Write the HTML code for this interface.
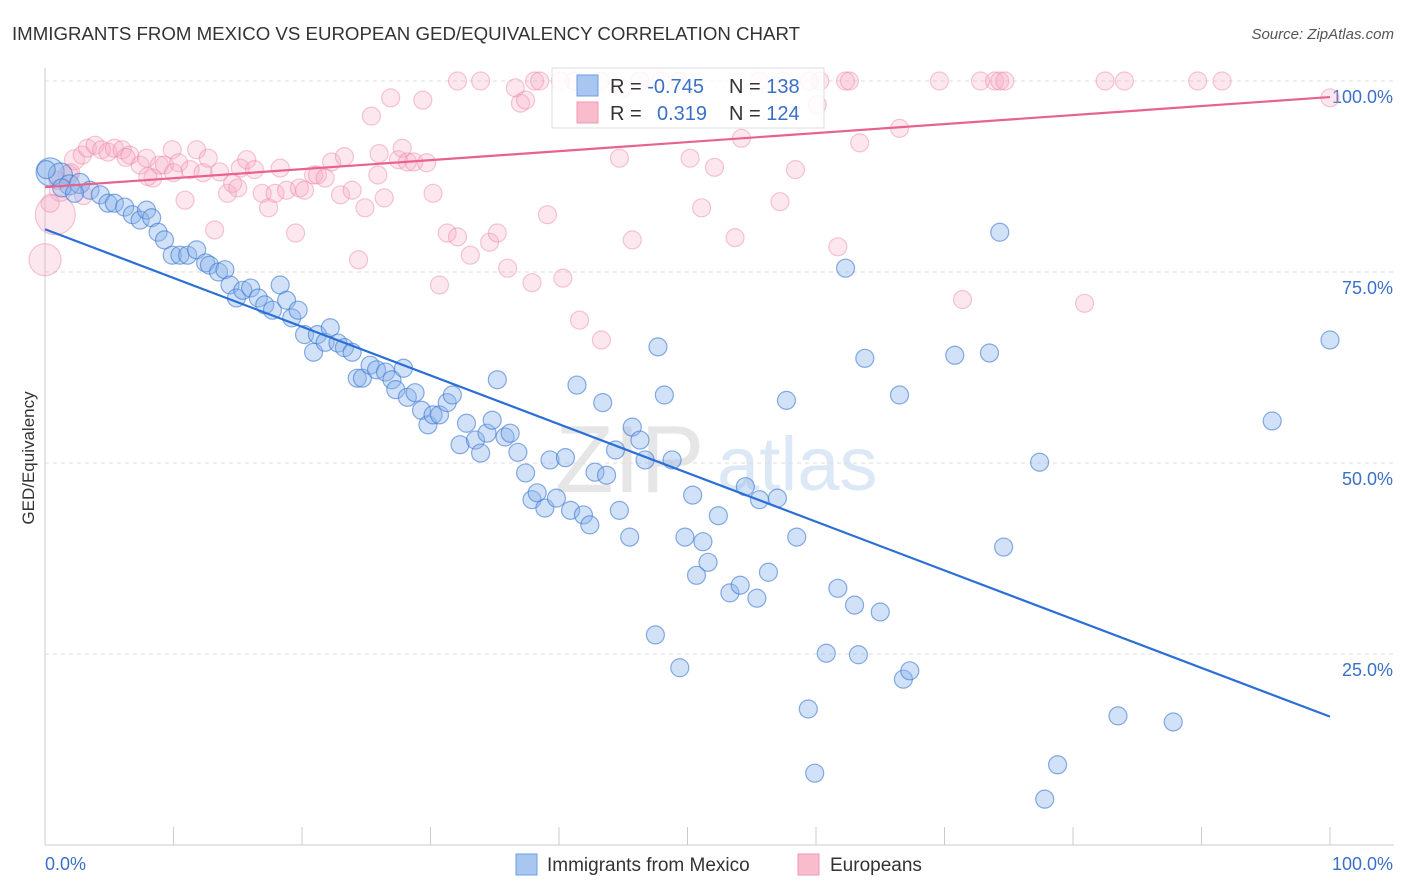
<!DOCTYPE html>
<html><head><meta charset="utf-8">
<style>
body{margin:0;background:#fff;font-family:"Liberation Sans",sans-serif;}
#wrap{position:relative;width:1406px;height:892px;overflow:hidden;}
svg text{font-family:"Liberation Sans",sans-serif;}
</style></head>
<body>
<div id="wrap">
<svg id="chart" width="1406" height="892">
  <text x="12" y="40" font-size="18" fill="#333" textLength="788" lengthAdjust="spacingAndGlyphs">IMMIGRANTS FROM MEXICO VS EUROPEAN GED/EQUIVALENCY CORRELATION CHART</text>
  <text x="1394" y="39" font-size="15" fill="#555" font-style="italic" text-anchor="end">Source: ZipAtlas.com</text>
  <text transform="translate(34,458) rotate(-90)" font-size="17" fill="#333" text-anchor="middle">GED/Equivalency</text>
  <g>
    <text x="555" y="492" font-size="96" fill="#e6e6e6" font-family="Liberation Serif">ZIP</text>
    <text x="717" y="490" font-size="76" fill="#dce8f5">atlas</text>
  </g>
  <g id="grid"></g>
  <g id="axes"></g>
  <g id="pts"></g>
  <g id="trends"></g>
  <g>
    <rect x="552" y="68" width="272" height="60" fill="rgba(255,255,255,0.85)" stroke="#ddd"/>
    <rect x="577" y="75" width="21" height="21" fill="#a8c6f0" stroke="#6d9de0"/>
    <rect x="577" y="102" width="21" height="21" fill="#f8bccd" stroke="#ef97b2"/>
    <text x="610" y="93" font-size="20" fill="#333">R = <tspan fill="#3a70c8">-0.745</tspan></text>
    <text x="729" y="93" font-size="20" fill="#333">N = <tspan fill="#3a70c8">138</tspan></text>
    <text x="610" y="120" font-size="20" fill="#333">R = <tspan fill="#3a70c8" x="657">0.319</tspan></text>
    <text x="729" y="120" font-size="20" fill="#333">N = <tspan fill="#3a70c8">124</tspan></text>
  </g>
  <g>
    <rect x="516" y="854" width="21" height="21" fill="#a8c6f0" stroke="#6d9de0"/>
    <text x="547" y="871" font-size="19" fill="#333">Immigrants from Mexico</text>
    <rect x="798" y="854" width="21" height="21" fill="#f8bccd" stroke="#ef97b2"/>
    <text x="830" y="871" font-size="19" fill="#333">Europeans</text>
  </g>
</svg>
</div>
<script>
const yTicks=[100,75,50,25];
const yTickLabels=["100.0%","75.0%","50.0%","25.0%"];
const xTicks=[0,10,20,30,40,50,60,70,80,90,100];
const xEndLabels=["0.0%","100.0%"];
const mexX=[0.4,1.2,1.9,2.7,3.5,4.3,4.9,5.4,6.2,6.8,7.4,7.9,8.3,8.8,9.3,9.9,10.5,11.1,11.8,12.5,12.8,13.5,14.0,14.4,14.9,15.4,16.0,16.6,17.1,17.7,18.3,18.8,19.2,19.7,20.2,20.9,21.2,21.8,22.2,22.8,23.3,23.9,24.3,24.7,25.3,25.8,26.5,27.0,27.3,27.9,28.2,28.8,29.3,29.8,30.2,30.7,31.3,31.7,32.3,32.8,33.5,33.9,34.4,34.8,35.2,35.8,36.2,36.8,37.4,37.9,38.3,38.9,39.3,39.8,40.5,40.9,41.4,41.9,42.4,42.8,43.4,43.7,44.4,44.7,45.5,45.7,46.3,46.7,47.5,47.7,48.2,48.8,49.4,49.8,50.4,50.7,51.2,51.6,52.4,53.3,54.1,54.5,55.4,55.6,56.3,57.0,57.7,58.5,59.4,59.9,60.8,61.7,62.3,63.0,63.3,63.8,65.0,66.5,66.8,67.3,70.8,73.5,74.3,74.6,77.4,77.8,78.8,83.5,87.8,95.5,100,0.1,1.3,2.3];
const mexY=[88.1,87.7,86.4,86.6,85.7,85.1,84.0,84.0,83.5,82.5,81.8,83.1,82.1,80.2,79.2,77.2,77.2,77.2,77.9,76.2,75.9,75.0,75.3,73.3,71.6,72.6,72.9,71.6,70.7,70.0,73.3,71.3,69.0,70.0,66.8,64.5,66.8,65.8,67.7,65.7,65.1,64.5,61.1,61.1,62.8,62.2,61.9,60.9,59.6,62.4,58.6,59.2,56.9,55.0,56.3,56.3,57.9,58.9,52.4,55.2,53.0,51.3,53.9,55.6,60.9,53.4,53.9,51.4,48.7,45.2,46.1,44.1,50.4,45.4,50.7,43.8,60.2,43.2,41.9,48.8,57.9,48.4,51.7,43.8,40.3,54.7,53.0,50.4,27.5,65.2,58.9,50.4,23.2,40.3,45.8,35.3,39.7,37.0,43.1,33.0,34.0,46.9,32.3,45.2,35.7,45.4,58.2,40.3,17.8,9.4,25.1,33.6,75.5,31.4,24.9,63.7,30.5,58.9,21.7,22.8,64.1,64.4,80.2,39.0,50.1,6.0,10.5,16.9,16.1,55.5,66.1,88.4,86.0,85.3];
const mexR=[14,12,10,10,9,9,9,9,9,9,9,9,9,9,9,9,9,9,9,9,9,9,9,9,9,9,9,9,9,9,9,9,9,9,9,9,9,9,9,9,9,9,9,9,9,9,9,9,9,9,9,9,9,9,9,9,9,9,9,9,9,9,9,9,9,9,9,9,9,9,9,9,9,9,9,9,9,9,9,9,9,9,9,9,9,9,9,9,9,9,9,9,9,9,9,9,9,9,9,9,9,9,9,9,9,9,9,9,9,9,9,9,9,9,9,9,9,9,9,9,9,9,9,9,9,9,9,9,9,9,9,9,9,9,9,9,12,10,9];
const eurX=[0,0.8,1.2,1.8,2.3,2.9,3.3,3.9,4.4,4.9,5.4,6.0,6.6,7.4,7.9,8.4,8.9,9.3,9.9,10.4,10.9,11.3,11.8,12.3,12.7,13.2,13.6,14.2,14.6,15.2,15.7,16.3,16.9,17.4,17.9,18.3,18.8,19.5,19.8,20.2,20.9,21.2,21.8,22.3,23.0,23.3,23.9,24.4,24.9,25.4,25.9,26.4,26.9,27.5,27.8,28.2,28.7,29.4,29.7,30.2,30.7,31.3,32.1,32.1,33.1,33.9,34.6,35.2,36.0,36.6,37.0,37.4,37.9,38.1,38.5,39.1,40.1,40.3,41.2,41.6,43.2,43.3,44.7,45.7,46.3,47.9,49.4,50.2,51.1,52.1,53.7,54.2,55.6,57.2,57.4,58.4,59.5,60.1,60.3,61.7,62.3,62.6,63.4,66.5,69.6,71.4,72.8,73.9,74.3,74.7,80.9,82.5,84.0,89.7,91.6,100,0.4,1.0,2.0,3.0,6.3,8.0,10.0,15.0,26.0,45.0];
const eurY=[76.6,82.5,85.7,87.7,89.7,90.3,91.2,91.6,91.0,90.7,91.2,91.0,90.3,89.0,89.9,87.3,89.0,89.0,91.0,89.3,84.4,88.4,91.0,88.0,89.9,80.5,88.1,85.3,86.6,88.6,89.7,88.4,85.3,83.4,85.3,88.6,85.7,80.1,86.0,85.7,87.7,87.7,87.3,89.4,85.1,90.1,85.7,76.6,83.4,95.4,87.7,84.7,97.8,89.7,91.2,89.4,89.4,97.5,89.3,85.3,73.3,80.1,79.6,100,77.2,100,78.9,80.1,75.5,99.1,97.1,97.5,73.6,100,100,82.5,100,74.2,100,68.7,100,66.1,89.9,79.2,100,100,100,89.9,83.4,88.7,79.5,92.5,100,84.2,100,88.4,100,96.9,100,78.3,100,100,91.9,93.8,100,71.4,100,100,100,100,70.9,100,100,100,100,97.8,84.0,87.0,88.0,85.0,90.0,87.5,88.0,86.0,90.5,99.0];
const eurR=[16,20,11,10,10,9,9,9,9,9,9,9,9,9,9,9,9,9,9,9,9,9,9,9,9,9,9,9,9,9,9,9,9,9,9,9,9,9,9,9,9,9,9,9,9,9,9,9,9,9,9,9,9,9,9,9,9,9,9,9,9,9,9,9,9,9,9,9,9,9,9,9,9,9,9,9,9,9,9,9,9,9,9,9,9,9,9,9,9,9,9,9,9,9,9,9,9,9,9,9,9,9,9,9,9,9,9,9,9,9,9,9,9,9,9,9,9,9,9,9,9,9,9,9,9,9];
const mexTrend=[80.6,16.8];
const eurTrend=[86.1,97.9];

const X0=45,X1=1330,Y0=845,Y100=81;
const sx=v=>X0+(X1-X0)*v/100;
const sy=v=>Y0-(Y0-Y100)*v/100;
const NS="http://www.w3.org/2000/svg";
function mk(tag,attrs,parent){const e=document.createElementNS(NS,tag);for(const k in attrs)e.setAttribute(k,attrs[k]);parent.appendChild(e);return e;}
const grid=document.getElementById('grid'),axes=document.getElementById('axes'),pts=document.getElementById('pts'),tr=document.getElementById('trends');
yTicks.forEach((t,i)=>{
  const l=mk('line',{x1:X0,x2:1394,y1:sy(t),y2:sy(t),stroke:'#ddd','stroke-dasharray':'4,4'},grid);
  
  
  const tx=mk('text',{x:1393,y:sy(t)+22,'font-size':18,fill:'#3a70c8','text-anchor':'end'},axes);
  tx.textContent=yTickLabels[i];
  
  
});
let a=mk('line',{x1:X0,x2:X0,y1:68,y2:Y0,stroke:'#ccc'},axes);


a=mk('line',{x1:X0,x2:1394,y1:Y0,y2:Y0,stroke:'#ccc'},axes);


xTicks.forEach(t=>{
  const l=mk('line',{x1:sx(t),x2:sx(t),y1:827,y2:Y0,stroke:'#ccc'},axes);
  
  
});
let t0=mk('text',{x:X0,y:870,'font-size':18,fill:'#3a70c8'},axes);t0.textContent=xEndLabels[0];


let t1=mk('text',{x:1393,y:870,'font-size':18,fill:'#3a70c8','text-anchor':'end'},axes);t1.textContent=xEndLabels[1];


eurX.forEach((v,i)=>{
  const c=mk('circle',{cx:sx(v),cy:sy(eurY[i]),r:eurR[i],fill:'rgba(248,170,195,0.28)',stroke:'rgba(236,130,165,0.45)','stroke-width':1.2},pts);
  
  
});
mexX.forEach((v,i)=>{
  const c=mk('circle',{cx:sx(v),cy:sy(mexY[i]),r:mexR[i],fill:'rgba(140,180,235,0.4)',stroke:'rgba(60,120,210,0.6)','stroke-width':1.2},pts);
  
  
});
let l1=mk('line',{x1:sx(0),y1:sy(mexTrend[0]),x2:sx(100),y2:sy(mexTrend[1]),stroke:'#2a6fd6','stroke-width':2.2},tr);


let l2=mk('line',{x1:sx(0),y1:sy(eurTrend[0]),x2:sx(100),y2:sy(eurTrend[1]),stroke:'#e8628e','stroke-width':2.2},tr);


</script>
</body></html>
